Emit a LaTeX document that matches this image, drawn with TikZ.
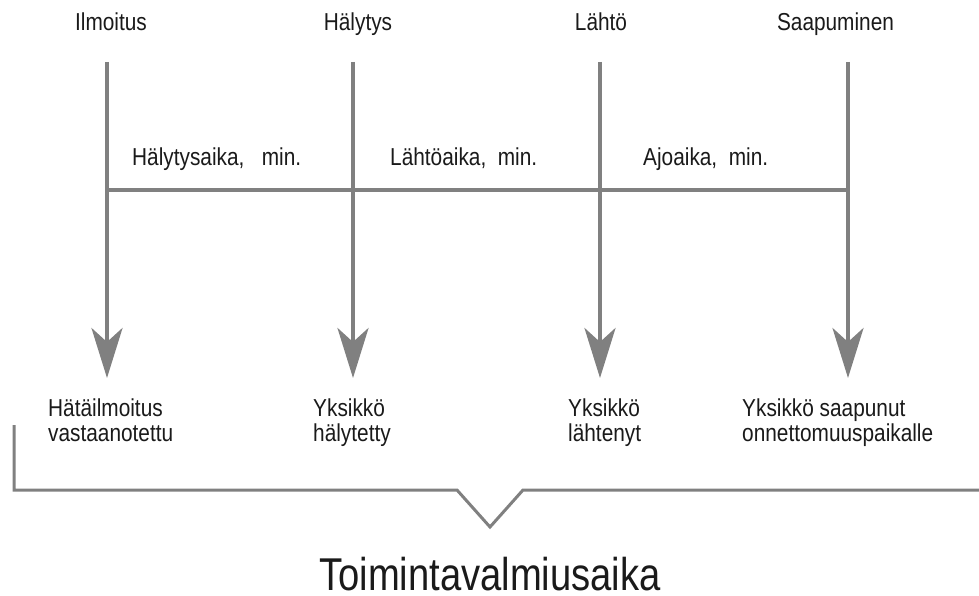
\documentclass[tikz,border=0pt]{standalone}
\usepackage{fontspec}
\setmainfont[FakeStretch=0.85]{Liberation Sans}
\newfontfamily\titlefont[FakeStretch=0.83]{Liberation Sans}
\usetikzlibrary{arrows.meta}
\definecolor{linegray}{HTML}{808080}
\definecolor{textdark}{HTML}{1A1A1A}
\tikzset{
  vline/.style={draw=linegray, line width=4pt, -{Stealth[length=50pt,width=31pt,inset=14pt]}},
  hline/.style={draw=linegray, line width=4pt},
  bracket/.style={draw=linegray, line width=3pt, line join=miter},
  lbl/.style={inner sep=0pt, font=\fontsize{24.5}{25}\selectfont, text=textdark},
  blbl/.style={lbl, anchor=base west, align=left},
  ttl/.style={inner sep=0pt, anchor=base, font=\titlefont\fontsize{46}{50}\selectfont, text=textdark}
}
\begin{document}
\begin{tikzpicture}[x=1pt,y=-1pt]
\useasboundingbox (0,0) rectangle (979,596);
% coordinates
\coordinate (atop) at (107,62); \coordinate (amid) at (107,190); \coordinate (atip) at (107,378);
\coordinate (btop) at (353,62); \coordinate (bmid) at (353,190); \coordinate (btip) at (353,378);
\coordinate (ctop) at (600,62); \coordinate (cmid) at (600,190); \coordinate (ctip) at (600,378);
\coordinate (dtop) at (848,62); \coordinate (dmid) at (848,190); \coordinate (dtip) at (848,378);
% horizontal line
\draw[hline] (amid) -- (dmid);
% vertical arrows
\draw[vline] (atop) -- (atip);
\draw[vline] (btop) -- (btip);
\draw[vline] (ctop) -- (ctip);
\draw[vline] (dtop) -- (dtip);
% top labels
\node[lbl, anchor=base] (t1) at (111,31) {Ilmoitus};
\node[lbl, anchor=base] (t2) at (358,31) {Hälytys};
\node[lbl, anchor=base] (t3) at (601,31) {Lähtö};
\node[lbl, anchor=base] (t4) at (835.5,31) {Saapuminen};
% interval labels
\node[lbl, anchor=base west] (m1) at (132,166) {Hälytysaika,\ \ \ min.};
\node[lbl, anchor=base west] (m2) at (390,166) {Lähtöaika,\ \ min.};
\node[lbl, anchor=base west] (m3) at (643,166) {Ajoaika,\ \ min.};
% bottom labels (base anchor = baseline of the last line)
\node[blbl] (b1) at (48,441) {Hätäilmoitus\\vastaanotettu};
\node[blbl] (b2) at (313,441) {Yksikkö\\hälytetty};
\node[blbl] (b3) at (568,441) {Yksikkö\\lähtenyt};
\node[blbl] (b4) at (742,441) {Yksikkö saapunut\\onnettomuuspaikalle};
% bracket
\coordinate (br1) at (14,425);
\coordinate (br2) at (14,490);
\coordinate (br3) at (457,490);
\coordinate (br4) at (490,527);
\coordinate (br5) at (523,490);
\coordinate (br6) at (981,490);
\draw[bracket] (br1) -- (br2) -- (br3) -- (br4) -- (br5) -- (br6);
% title
\node[ttl] (title) at (490,590.5) {Toimintavalmiusaika};
\end{tikzpicture}
\end{document}
